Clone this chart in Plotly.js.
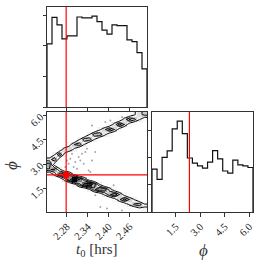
<!DOCTYPE html>
<html><head><meta charset="utf-8">
<script src="https://cdn.plot.ly/plotly-3.0.1.min.js"></script>
<style>html,body{margin:0;padding:0;background:#fff;overflow:hidden}#plot{width:262px;height:261px;}</style>
</head><body><div id="plot"></div>
<script>
// ---- data ----
const t0Counts = [207,294,269,223,233,233,295,292,292,298,280,252,239,269,267,267,220,214,178,125];
const phiCounts = [158,120,201,225,306,335,289,199,180,170,162,184,226,196,151,143,191,174,170,164];
const t0Range = [2.223, 2.510];
const phiRange = [0.05, 6.23];
const t0Ticks = [2.28, 2.34, 2.40, 2.46];
const t0TickText = ['2.28', '2.34', '2.40', '2.46'];
const phiTicks = [1.5, 3.0, 4.5, 6.0];
const phiTickText = ['1.5', '3.0', '4.5', '6.0'];
const histTicks = [0, 100, 200, 300];
const truthT0 = 2.278;
const truthPhi = 2.34;
// 2D histogram: rows = phi bins (low -> high), columns = t0 bins (low -> high)
const density = [
  [0,0,0,0,0,0,0,0,0,0,0,0,0,0,0,0,0,0,12,21],
  [0,0,0,0,0,0,0,0,0,0,0,0,0,0,0,7,26,42,47,25],
  [0,0,0,0,0,0,0,0,0,0,0,0,0,13,37,57,39,22,5,0],
  [0,0,0,0,0,0,0,0,0,0,3,26,48,63,39,13,0,0,0,0],
  [0,0,0,0,0,0,0,0,22,48,69,61,34,9,0,0,0,0,0,0],
  [0,0,0,0,0,17,47,77,89,57,24,0,0,0,0,0,0,0,0,0],
  [0,0,0,30,65,100,70,40,10,0,0,0,0,0,0,0,0,0,0,0],
  [0,28,59,69,46,17,0,0,0,0,0,0,0,0,0,0,0,0,0,0],
  [50,54,29,0,0,0,0,0,0,0,0,0,0,0,0,0,0,0,0,0],
  [57,15,0,0,0,0,0,0,0,0,0,0,0,0,0,0,0,0,0,0],
  [33,49,11,0,0,0,0,0,0,0,0,0,0,0,0,0,0,0,0,0],
  [0,21,53,18,0,0,0,0,0,0,0,0,0,0,0,0,0,0,0,0],
  [0,0,7,35,35,18,0,0,0,0,0,0,0,0,0,0,0,0,0,0],
  [0,0,0,0,17,40,47,22,0,0,0,0,0,0,0,0,0,0,0,0],
  [0,0,0,0,0,0,23,48,47,22,1,0,0,0,0,0,0,0,0,0],
  [0,0,0,0,0,0,0,0,23,48,51,28,10,0,0,0,0,0,0,0],
  [0,0,0,0,0,0,0,0,0,0,19,36,54,39,13,0,0,0,0,0],
  [0,0,0,0,0,0,0,0,0,0,0,0,8,32,57,39,11,0,0,0],
  [0,0,0,0,0,0,0,0,0,0,0,0,0,0,7,32,53,43,24,8],
  [0,0,0,0,0,0,0,0,0,0,0,0,0,0,0,0,7,21,34,44]
];
// scattered samples outside the contours
const pointsT0 = [2.2803,2.2851,2.2899,2.2994,2.3042,2.3138,2.3234,2.3329,2.3377,2.3425,2.3473,2.3521,2.3186,2.3617,2.2947,2.3090,2.2755,2.3282,2.3904,2.4047,2.4382,2.4526,2.3521,2.3760,2.3951,2.4382,2.4621,2.3617,2.4143,2.3377];
const pointsPhi = [3.24,3.03,3.34,2.83,3.14,3.45,3.65,3.76,3.96,2.62,2.52,3.24,3.24,3.76,3.65,2.73,2.83,3.03,5.61,5.71,5.92,5.81,5.40,0.36,0.26,0.15,0.46,1.08,1.70,1.70];
const sigmaLevels = [0.5, 1.0, 1.5, 2.0];

// ---- build tables for the library ----
function edges(range, n){ const w=(range[1]-range[0])/n; const e=[]; for(let i=0;i<=n;i++) e.push(range[0]+i*w); return e; }
function centers(range, n){ const w=(range[1]-range[0])/n; const c=[]; for(let i=0;i<n;i++) c.push(range[0]+(i+0.5)*w); return c; }
function stepXY(counts, range){
  const e = edges(range, counts.length);
  const x=[e[0]], y=[0];
  for(let i=0;i<counts.length;i++){ x.push(e[i]); y.push(counts[i]); }
  x.push(e[counts.length]); y.push(counts[counts.length-1]);
  x.push(e[counts.length]); y.push(0);
  return {x, y};
}
const nx = density[0].length, ny = density.length;
const cx = centers(t0Range, nx), cy = centers(phiRange, ny);
const dx = cx[1]-cx[0], dy = cy[1]-cy[0];
const X2 = [cx[0]-2*dx, cx[0]-dx, ...cx, cx[nx-1]+dx, cx[nx-1]+2*dx];
const Y2 = [cy[0]-2*dy, cy[0]-dy, ...cy, cy[ny-1]+dy, cy[ny-1]+2*dy];
const Z2 = [];
for(let r=0;r<ny+4;r++){ Z2.push(new Array(nx+4).fill(0)); }
for(let r=0;r<ny;r++) for(let c=0;c<nx;c++) Z2[r+2][c+2]=density[r][c];
for(let r=0;r<ny;r++){ Z2[r+2][1]=density[r][0]; Z2[r+2][nx+2]=density[r][nx-1]; }
for(let c=0;c<nx;c++){ Z2[1][c+2]=density[0][c]; Z2[ny+2][c+2]=density[ny-1][c]; }
Z2[1][1]=density[0][0]; Z2[1][nx+2]=density[0][nx-1]; Z2[ny+2][1]=density[ny-1][0]; Z2[ny+2][nx+2]=density[ny-1][nx-1];
const flat = density.flat().slice().sort((a,b)=>b-a);
const tot = flat.reduce((a,b)=>a+b,0);
const cum = []; let s=0; for(const v of flat){ s+=v; cum.push(s/tot); }
const levels = sigmaLevels.map(sg=>{
  const v0 = 1-Math.exp(-0.5*sg*sg);
  let val = flat[0];
  for(let i=0;i<flat.length;i++){ if(cum[i]<=v0) val=flat[i]; }
  return val;
}).sort((a,b)=>a-b);
const zmax = Math.max(...density.flat());

const lineCol = '#333';
const serif = 'Liberation Serif, DejaVu Serif, serif';
const tickFont = {family:serif, size:10.5, color:'#222'};
const h1 = stepXY(t0Counts, t0Range);
const h3 = stepXY(phiCounts, phiRange);

const traces = [
  {type:'scatter', mode:'lines', x:h1.x, y:h1.y, xaxis:'x', yaxis:'y', line:{color:'#111', width:1.2, shape:'hv'}, hoverinfo:'skip'},
  {type:'heatmap', x:cx, y:cy, z:density, xaxis:'x2', yaxis:'y2', zmin:0, zmax:zmax, showscale:false, zsmooth:false,
   colorscale:[[0,'rgba(0,0,0,0)'],[0.25,'rgba(0,0,0,0.06)'],[0.5,'rgba(0,0,0,0.25)'],[0.75,'rgba(0,0,0,0.56)'],[1,'rgba(0,0,0,1)']], hoverinfo:'skip'},
  {type:'scatter', mode:'markers', x:pointsT0, y:pointsPhi, xaxis:'x2', yaxis:'y2', marker:{color:'rgba(0,0,0,0.35)', size:2}, hoverinfo:'skip'}
];
levels.forEach(L=>{
  traces.push({type:'contour', x:X2, y:Y2, z:Z2, xaxis:'x2', yaxis:'y2', autocontour:false,
    contours:{start:L, end:L, size:1000, coloring:'none'}, line:{color:'#000', width:1, smoothing:0}, showscale:false, hoverinfo:'skip'});
});
traces.push({type:'scatter', mode:'markers', x:[truthT0], y:[truthPhi], xaxis:'x2', yaxis:'y2', marker:{color:'red', size:7}, hoverinfo:'skip'});
traces.push({type:'scatter', mode:'lines', x:h3.x, y:h3.y, xaxis:'x3', yaxis:'y3', line:{color:'#111', width:1.2, shape:'hv'}, hoverinfo:'skip'});

const W=262, H=261;
const dL=[47/W,147/W], dR=[152/W,253/W], dT=[1-107/H,1-7/H], dB=[1-212/H,1-112/H];
const common = {automargin:false, showline:true, mirror:true, linecolor:lineCol, linewidth:1, ticks:'outside', ticklen:3.5, tickwidth:1, tickcolor:lineCol, showgrid:false, zeroline:false, fixedrange:true, tickfont:tickFont};
const layout = {
  width:W, height:H, margin:{l:0,r:0,t:0,b:0,pad:0,autoexpand:false}, paper_bgcolor:'#fff', plot_bgcolor:'#fff', showlegend:false,
  xaxis: Object.assign({}, common, {domain:dL, anchor:'y', range:t0Range, tickvals:t0Ticks, showticklabels:false}),
  yaxis: Object.assign({}, common, {domain:dT, anchor:'x', range:[0, 1.1*Math.max(...t0Counts)], tickvals:histTicks, showticklabels:false}),
  xaxis2: Object.assign({}, common, {domain:dL, anchor:'y2', range:t0Range, tickvals:t0Ticks, ticktext:t0TickText, tickangle:-45}),
  yaxis2: Object.assign({}, common, {domain:dB, anchor:'x2', range:phiRange, tickvals:phiTicks, ticktext:phiTickText, tickangle:-45}),
  xaxis3: Object.assign({}, common, {domain:dR, anchor:'y3', range:phiRange, tickvals:phiTicks, ticktext:phiTickText, tickangle:-45}),
  yaxis3: Object.assign({}, common, {domain:dB, anchor:'x3', range:[0, 1.1*Math.max(...phiCounts)], tickvals:histTicks, showticklabels:false}),
  shapes:[
    {type:'line', xref:'x', yref:'y domain', x0:truthT0, x1:truthT0, y0:0, y1:1, line:{color:'red', width:1.2}},
    {type:'line', xref:'x2', yref:'y2 domain', x0:truthT0, x1:truthT0, y0:0, y1:1, line:{color:'red', width:1.2}},
    {type:'line', xref:'x2 domain', yref:'y2', x0:0, x1:1, y0:truthPhi, y1:truthPhi, line:{color:'red', width:1.2}},
    {type:'line', xref:'x3', yref:'y3 domain', x0:truthPhi, x1:truthPhi, y0:0, y1:1, line:{color:'red', width:1.2}}
  ],
  annotations:[
    {xref:'paper', yref:'paper', x:97/W, y:1-250/H, xanchor:'center', yanchor:'middle', text:'<i>t</i><sub>0</sub> [hrs]', showarrow:false, font:{family:serif, size:15, color:'#333'}},
    {xref:'paper', yref:'paper', x:203/W, y:1-250/H, xanchor:'center', yanchor:'middle', text:'<i>ϕ</i>', showarrow:false, font:{family:serif, size:17, color:'#333'}},
    {xref:'paper', yref:'paper', x:11/W, y:1-166/H, xanchor:'center', yanchor:'middle', text:'<i>ϕ</i>', textangle:-90, showarrow:false, font:{family:serif, size:17, color:'#333'}}
  ]
};
Plotly.newPlot('plot', traces, layout, {staticPlot:true, displayModeBar:false});
</script></body></html>
